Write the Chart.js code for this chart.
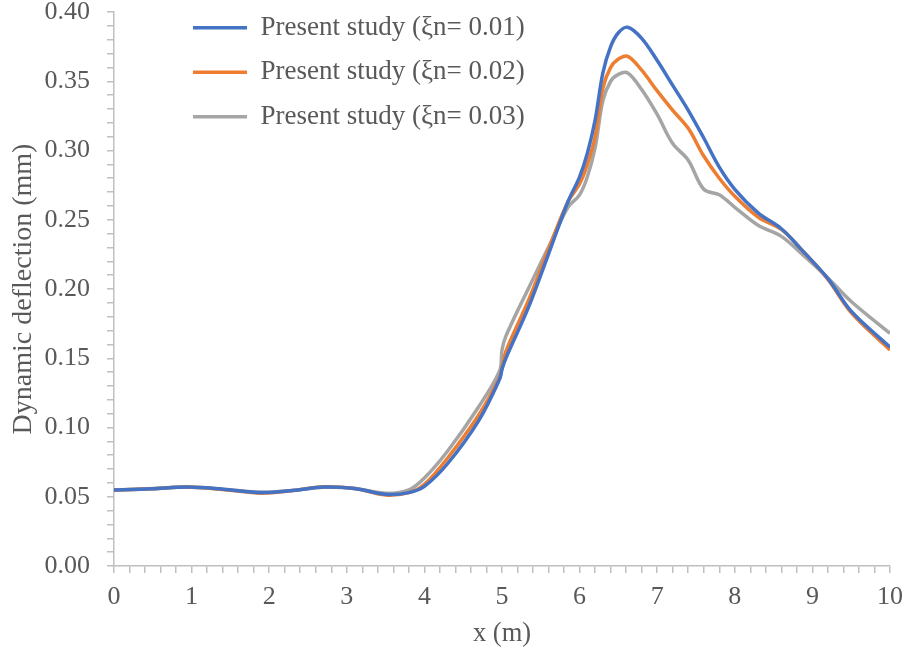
<!DOCTYPE html>
<html>
<head>
<meta charset="utf-8">
<script src="https://cdn.jsdelivr.net/npm/chart.js@4"></script>
<style>
  html, body { margin: 0; padding: 0; background: #fff; }
</style>
</head>
<body>
<canvas id="myChart" width="907" height="651"></canvas>
<script>
// positions along the beam (m)
const xPos = [0, 0.5, 0.95, 1.4, 1.9, 2.3, 2.7, 3.1, 3.5, 3.8, 4.0, 4.3, 4.7, 4.97, 5.0, 5.05,
  5.35, 5.65, 5.85, 6.0, 6.1, 6.2, 6.3, 6.4, 6.5, 6.62, 6.8, 7.0, 7.2, 7.4, 7.6, 7.8, 8.0,
  8.3, 8.6, 8.85, 9.2, 9.5, 10];

// dynamic deflection (mm) for each damping ratio
const defl001 = [0.0548, 0.0558, 0.0570, 0.0555, 0.0530, 0.0545, 0.0570, 0.0560, 0.0518, 0.0530, 0.0575, 0.074, 0.105, 0.135, 0.142, 0.150,
  0.188, 0.233, 0.263, 0.281, 0.298, 0.322, 0.356, 0.375, 0.385, 0.389, 0.381, 0.365, 0.347, 0.329, 0.309, 0.288, 0.272,
  0.255, 0.2435, 0.229, 0.2075, 0.184, 0.158];
const defl002 = [0.0548, 0.0558, 0.0570, 0.0553, 0.0526, 0.0545, 0.0572, 0.0560, 0.0512, 0.0530, 0.0590, 0.078, 0.109, 0.136, 0.143, 0.155,
  0.193, 0.236, 0.263, 0.276, 0.290, 0.310, 0.345, 0.360, 0.366, 0.368, 0.358, 0.343, 0.329, 0.316, 0.296, 0.280, 0.267,
  0.252, 0.243, 0.229, 0.207, 0.183, 0.156];
const defl003 = [0.0548, 0.0560, 0.0570, 0.0555, 0.0532, 0.0545, 0.0568, 0.0560, 0.0525, 0.0550, 0.0635, 0.083, 0.115, 0.141, 0.156, 0.166,
  0.2015, 0.236, 0.259, 0.268, 0.281, 0.302, 0.336, 0.350, 0.355, 0.356, 0.344, 0.326, 0.305, 0.293, 0.272, 0.268, 0.259,
  0.246, 0.238, 0.226, 0.208, 0.191, 0.168];

const seriesNames = ['Present study (ξn= 0.01)', 'Present study (ξn= 0.02)', 'Present study (ξn= 0.03)'];
const seriesColors = ['#4472C4', '#ED7D31', '#A5A5A5'];

const FONT = 'Liberation Serif, Times New Roman, serif';
const TXT = '#595959';
const AXIS = '#BFBFBF';

function pts(ys) {
  return xPos.map((x, i) => ({ x: x, y: ys[i] }));
}

const sets = [defl001, defl002, defl003].map((ys, i) => ({
  label: seriesNames[i],
  data: pts(ys),
  borderColor: seriesColors[i],
  backgroundColor: seriesColors[i],
  borderWidth: 3.5,
  pointRadius: 0,
  fill: false,
  tension: 0.35
}));

// move the legend block to sit inside the plot, top-left
const legendSpot = {
  id: 'legendSpot',
  beforeDraw(chart) {
    const lg = chart.legend;
    lg.left = 175.5;
    lg.top = -3.3;
  }
};

const ctx = document.getElementById('myChart');

new Chart(ctx, {
  type: 'line',
  data: { datasets: sets },
  options: {
    responsive: false,
    animation: false,
    layout: { padding: { top: 12, right: 17, left: 0, bottom: 0 } },
    scales: {
      x: {
        type: 'linear',
        min: 0,
        max: 10,
        afterFit(scale) {
          scale.height = 85;
          scale.paddingLeft = 0;
          scale.paddingRight = 0;
        },
        ticks: {
          stepSize: 0.2,
          autoSkip: false,
          maxRotation: 0,
          padding: 9,
          color: TXT,
          font: { family: FONT, size: 26 },
          callback: v => Math.abs(v - Math.round(v)) < 1e-6 ? String(Math.round(v)) : ''
        },
        grid: { drawOnChartArea: false, color: AXIS, tickLength: 7, lineWidth: 1.5 },
        border: { color: AXIS, width: 1.5 },
        title: {
          display: true,
          text: 'x (m)',
          color: TXT,
          font: { family: FONT, size: 26.5 },
          padding: { top: 0, bottom: 1 }
        }
      },
      y: {
        min: 0,
        max: 0.4,
        afterFit(scale) {
          scale.width = 114;
          scale.paddingTop = 0;
          scale.paddingBottom = 0;
        },
        ticks: {
          stepSize: 0.01,
          autoSkip: false,
          padding: 17,
          color: TXT,
          font: { family: FONT, size: 26 },
          callback: v => {
            const k = Math.round(v * 100);
            return k % 5 === 0 ? (k / 100).toFixed(2) : '';
          }
        },
        grid: { drawOnChartArea: false, color: AXIS, tickLength: 7, lineWidth: 1.5 },
        border: { color: AXIS, width: 1.5 },
        title: {
          display: true,
          text: 'Dynamic deflection (mm)',
          color: TXT,
          font: { family: FONT, size: 28 },
          padding: { top: 7, bottom: 0 }
        }
      }
    },
    plugins: {
      legend: {
        position: 'chartArea',
        align: 'start',
        labels: {
          boxWidth: 54,
          boxHeight: 3.5,
          padding: 17.5,
          color: TXT,
          font: { family: FONT, size: 27 },
          generateLabels(chart) {
            const items = Chart.defaults.plugins.legend.labels.generateLabels(chart);
            items.forEach(it => { it.lineWidth = 0; });
            return items;
          }
        }
      },
      tooltip: { enabled: false }
    }
  },
  plugins: [legendSpot]
});
</script>
</body>
</html>
